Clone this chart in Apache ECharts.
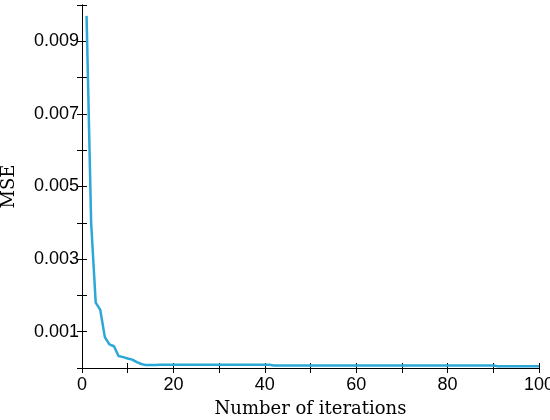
<!DOCTYPE html>
<html><head><meta charset="utf-8">
<script src="https://cdn.jsdelivr.net/npm/echarts@6/dist/echarts.min.js"></script>
<style>html,body{margin:0;background:#fff}#c{width:550px;height:420px}</style>
</head><body><div id="c"></div>
<script>
const iterations = [1,2,3,4,5,6,7,8,9,10,11,12,13,14,15,16,17,18,19,20,
21,22,23,24,25,26,27,28,29,30,31,32,33,34,35,36,37,38,39,40,
41,42,43,44,45,46,47,48,49,50,51,52,53,54,55,56,57,58,59,60,
61,62,63,64,65,66,67,68,69,70,71,72,73,74,75,76,77,78,79,80,
81,82,83,84,85,86,87,88,89,90,91,92,93,94,95,96,97,98,99,100];
const mse = [0.0097,0.0040,0.0018,0.0016,0.00085,0.00065,0.0006,0.00033,0.0003,0.00026,
0.00023,0.00016,0.00011,0.00008,0.00008,0.00008,0.00009,0.00009,0.00009,0.00009,
0.00009,0.00009,0.00009,0.00009,0.00009,0.00009,0.00009,0.00009,0.00009,0.00009,
0.00009,0.00009,0.00009,0.00009,0.00009,0.00009,0.00009,0.00009,0.00009,0.00009,
0.00009,0.00007,0.00007,0.00007,0.00007,0.00007,0.00007,0.00007,0.00007,0.00007,
0.00007,0.00007,0.00007,0.00007,0.00007,0.00007,0.00007,0.00007,0.00007,0.00007,
0.00007,0.00007,0.00007,0.00007,0.00007,0.00007,0.00007,0.00007,0.00007,0.00007,
0.00007,0.00007,0.00007,0.00007,0.00007,0.00007,0.00007,0.00007,0.00007,0.00007,
0.00007,0.00007,0.00007,0.00007,0.00007,0.00007,0.00007,0.00007,0.00007,0.00007,
0.00005,0.00005,0.00005,0.00005,0.00005,0.00005,0.00005,0.00005,0.00005,0.00005];
const xLabels = [0,20,40,60,80,100];
const yLabels = [0.001,0.003,0.005,0.007,0.009];

const lineAx = {lineStyle:{color:'#000',width:1}};
const tickIn = {inside:true,length:5,lineStyle:{color:'#000'}};
const lab = {fontFamily:'Liberation Sans',fontSize:18,color:'#000'};
const chart = echarts.init(document.getElementById('c'));
chart.setOption({
  animation:false,
  grid:{left:82,right:11,top:5,bottom:52,containLabel:false,outerBoundsMode:'none'},
  xAxis:[{type:'value',min:0,max:100,interval:10,axisLine:lineAx,axisTick:tickIn,splitLine:{show:false},
    axisLabel:Object.assign({},lab,{margin:8,formatter:v=>xLabels.includes(v)?String(v):''}),
    name:'Number of iterations',nameLocation:'middle',nameGap:32,
    nameTextStyle:{fontFamily:'DejaVu Serif',fontSize:18,color:'#000'}},
   {type:'value',position:'top',min:0,max:100,interval:10,axisLine:lineAx,axisTick:tickIn,axisLabel:{show:false},splitLine:{show:false}}],
  yAxis:[{type:'value',position:'left',min:0,max:0.01,interval:0.001,axisLine:lineAx,axisTick:tickIn,splitLine:{show:false},
    axisLabel:Object.assign({},lab,{margin:3,formatter:v=>yLabels.some(y=>Math.abs(y-v)<1e-9)?v.toFixed(3):''}),
    name:'MSE',nameLocation:'middle',nameGap:64,
    nameTextStyle:{fontFamily:'DejaVu Serif',fontSize:18,color:'#000'}},
   {type:'value',position:'right',min:0,max:0.01,interval:0.001,axisLine:lineAx,axisTick:tickIn,axisLabel:{show:false},splitLine:{show:false}}],
  series:[{type:'line',data:iterations.map((x,i)=>[x,mse[i]]),showSymbol:false,
    lineStyle:{color:'#2ba8d8',width:2.5},itemStyle:{color:'#2ba8d8'}}]
});
</script></body></html>
